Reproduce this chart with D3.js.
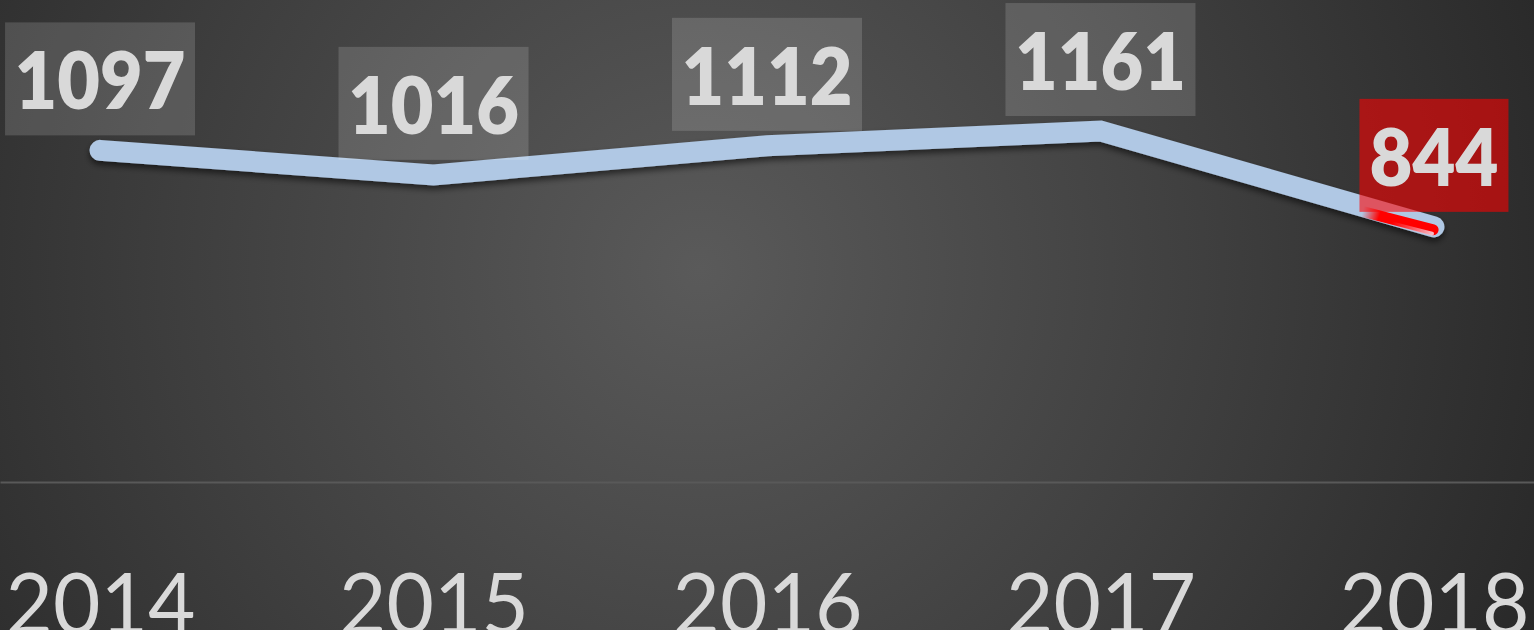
<!DOCTYPE html>
<html>
<head>
<meta charset="utf-8">
<script src="https://cdn.jsdelivr.net/npm/d3@7"></script>
<style>
  html, body { margin: 0; padding: 0; background: #333; overflow: hidden; }
  svg { display: block; }
</style>
</head>
<body>
<svg id="viz" width="1534" height="630"></svg>
<script>
// data
var years = ["2014", "2015", "2016", "2017", "2018"];
var values = [1097, 1016, 1112, 1161, 844];
var highlight = ["2018"];

var width = 1534
  , height = 630
  , baseY = 482
  , lineColor = "#b0c8e4"
  , textColor = "#d9d9d9";

var svg = d3.select("#viz");
var defs = svg.append("defs");

// background radial gradient
var bg = defs.append("radialGradient").attr("id", "bg")
  .attr("gradientUnits", "userSpaceOnUse")
  .attr("cx", 700).attr("cy", 270).attr("r", 950);
bg.append("stop").attr("offset", "0%").attr("stop-color", "#5a5a5a");
bg.append("stop").attr("offset", "55%").attr("stop-color", "#3e3e3e");
bg.append("stop").attr("offset", "100%").attr("stop-color", "#262626");

svg.append("rect").attr("width", width).attr("height", height).attr("fill", "url(#bg)");

// shadow for the line
var shadow = defs.append("filter").attr("id", "shadow")
  .attr("x", "-10%").attr("y", "-50%").attr("width", "120%").attr("height", "200%");
shadow.append("feDropShadow").attr("dx", 0).attr("dy", 4).attr("stdDeviation", 3)
  .attr("flood-color", "#000").attr("flood-opacity", 0.55);

var x = d3.scalePoint().domain(years).range([0, width]).padding(0.3);
var y = d3.scaleLinear().domain([0, 1200]).range([baseY, baseY - 1200 * 0.3023]);

var data = years.map(function(d, i){ return {year: d, value: values[i]}; });

// x axis (baseline + big year labels)
var axis = svg.append("g")
  .attr("transform", "translate(0," + baseY + ")")
  .call(d3.axisBottom(x).tickSize(0).tickPadding(0));
axis.select(".domain").attr("stroke", "#595959").attr("stroke-width", 2);
axis.selectAll(".tick text")
  .attr("y", 152).attr("dy", 0)
  .attr("fill", textColor)
  .attr("font-family", "Lato, 'Open Sans', sans-serif")
  .attr("font-size", 86)
  .attr("font-weight", 400)
  .attr("textLength", 190)
  .attr("lengthAdjust", "spacingAndGlyphs");

// line
var line = d3.line().x(d => x(d.year)).y(d => y(d.value));
svg.append("path")
  .datum(data)
  .attr("d", line)
  .attr("fill", "none")
  .attr("stroke", lineColor)
  .attr("stroke-width", 21)
  .attr("stroke-linecap", "round")
  .attr("stroke-linejoin", "miter")
  .attr("filter", "url(#shadow)");

// red tint on the end of the last segment
var a = data[data.length - 2], b = data[data.length - 1];
var x0 = x(a.year), y0 = y(a.value), x1 = x(b.year), y1 = y(b.value);
var len = Math.hypot(x1 - x0, y1 - y0);
var nx = -(y1 - y0) / len, ny = (x1 - x0) / len; // normal pointing down
if (ny < 0) { nx = -nx; ny = -ny; }
var t0 = 0.79;
var redGrad = defs.append("linearGradient").attr("id", "redEnd")
  .attr("gradientUnits", "userSpaceOnUse")
  .attr("x1", x0 + (x1 - x0) * t0).attr("y1", y0 + (y1 - y0) * t0)
  .attr("x2", x0 + (x1 - x0) * (t0 + 0.05)).attr("y2", y0 + (y1 - y0) * (t0 + 0.05));
redGrad.append("stop").attr("offset", "0%").attr("stop-color", "#ff0000").attr("stop-opacity", 0);
redGrad.append("stop").attr("offset", "100%").attr("stop-color", "#ff0000").attr("stop-opacity", 1);
svg.append("line")
  .attr("x1", x0 + (x1 - x0) * t0 + nx * 5).attr("y1", y0 + (y1 - y0) * t0 + ny * 5)
  .attr("x2", x1 + nx * 3).attr("y2", y1 + ny * 3)
  .attr("stroke", "url(#redEnd)")
  .attr("stroke-width", 11)
  .attr("stroke-linecap", "round");
var pinkGrad = defs.append("linearGradient").attr("id", "pinkEnd")
  .attr("gradientUnits", "userSpaceOnUse")
  .attr("x1", x0 + (x1 - x0) * 0.88).attr("y1", y0 + (y1 - y0) * 0.88)
  .attr("x2", x1).attr("y2", y1);
pinkGrad.append("stop").attr("offset", "0%").attr("stop-color", "#f4a0b0").attr("stop-opacity", 0);
pinkGrad.append("stop").attr("offset", "100%").attr("stop-color", "#f7c4d0").attr("stop-opacity", 0.95);
svg.append("line")
  .attr("x1", x0 + (x1 - x0) * 0.86 + nx * 8.5).attr("y1", y0 + (y1 - y0) * 0.86 + ny * 8.5)
  .attr("x2", x1 + nx * 7).attr("y2", y1 + ny * 7)
  .attr("stroke", "url(#pinkEnd)")
  .attr("stroke-width", 4)
  .attr("stroke-linecap", "round");

// data labels
var labels = svg.append("g").selectAll("g")
  .data(data)
  .enter().append("g")
    .attr("transform", d => "translate(" + x(d.year) + "," + (y(d.value) - 15) + ")");

labels.append("rect")
  .attr("x", d => -(String(d.value).length * 41 + 26) / 2)
  .attr("y", -113)
  .attr("width", d => String(d.value).length * 41 + 26)
  .attr("height", 113)
  .attr("fill", d => highlight.indexOf(d.year) >= 0 ? "#ff0000" : "#ffffff")
  .attr("fill-opacity", d => highlight.indexOf(d.year) >= 0 ? 0.58 : 0.15);

labels.append("text")
  .attr("text-anchor", "middle")
  .attr("y", -26)
  .attr("fill", textColor)
  .attr("font-family", "Lato, 'Open Sans', sans-serif")
  .attr("font-weight", 800)
  .attr("font-size", 80)
  .attr("textLength", d => String(d.value).length * 42 + 3)
  .attr("lengthAdjust", "spacingAndGlyphs")
  .text(d => d.value);
</script>
</body>
</html>
